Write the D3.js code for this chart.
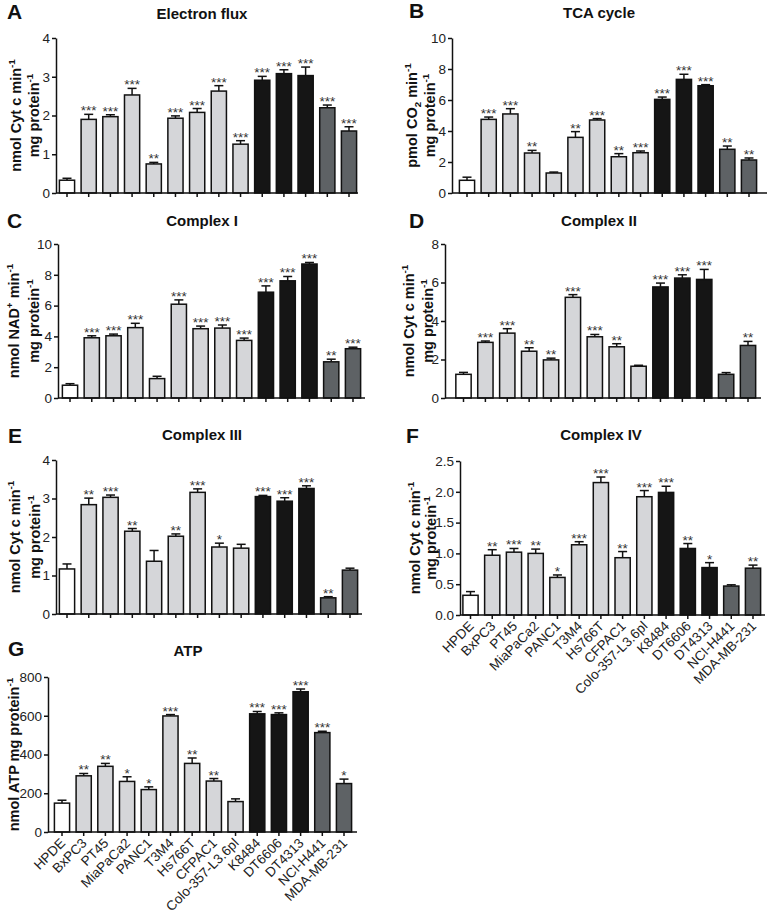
<!DOCTYPE html>
<html><head><meta charset="utf-8">
<script src="https://cdn.jsdelivr.net/npm/d3@7"></script>
<style>
body{margin:0;background:#fff}
svg{display:block}
text{font-family:"Liberation Sans",Arial,Helvetica,sans-serif}
</style>
</head><body>
<svg id="chart" width="768" height="916"></svg>
<script>
// ---------------- DATA ----------------
const categories = ["HPDE","BxPC3","PT45","MiaPaCa2","PANC1","T3M4","Hs766T","CFPAC1","Colo-357-L3.6pl","K8484","DT6606","DT4313","NCI-H441","MDA-MB-231"];
const cellGroups = ["control","pdac","pdac","pdac","pdac","pdac","pdac","pdac","pdac","murine","murine","murine","other","other"];
const groupColors = {control:"#ffffff", pdac:"#d5d6d9", murine:"#151515", other:"#5e6265"};

const electronFluxValues = [0.33,1.90,1.97,2.53,0.75,1.93,2.08,2.63,1.26,2.91,3.08,3.03,2.20,1.60];
const electronFluxErrors = [0.05,0.13,0.05,0.17,0.04,0.06,0.10,0.14,0.09,0.10,0.10,0.22,0.07,0.11];
const electronFluxStars  = ["","***","***","***","**","***","***","***","***","***","***","***","***","***"];
const electronFluxTicks  = [0,1,2,3,4];

const tcaValues = [0.82,4.75,5.10,2.58,1.29,3.59,4.71,2.34,2.60,6.04,7.33,6.92,2.82,2.13];
const tcaErrors = [0.20,0.15,0.34,0.17,0.06,0.37,0.09,0.20,0.11,0.15,0.33,0.07,0.21,0.13];
const tcaStars  = ["","***","***","**","","**","***","**","***","***","***","***","**","**"];
const tcaTicks  = [0,2,4,6,8,10];

const complexIValues = [0.83,3.91,4.04,4.57,1.26,6.09,4.50,4.54,3.74,6.87,7.61,8.70,2.35,3.20];
const complexIErrors = [0.10,0.13,0.11,0.28,0.15,0.28,0.17,0.20,0.15,0.41,0.28,0.10,0.17,0.10];
const complexIStars  = ["","***","***","***","","***","***","***","***","***","***","***","**","***"];
const complexITicks  = [0,2,4,6,8,10];

const complexIIValues = [1.23,2.89,3.37,2.43,1.98,5.23,3.18,2.66,1.65,5.77,6.23,6.16,1.23,2.73];
const complexIIErrors = [0.10,0.07,0.23,0.18,0.09,0.14,0.12,0.16,0.05,0.20,0.17,0.52,0.09,0.21];
const complexIIStars  = ["","***","***","**","**","***","***","**","","***","***","***","","**"];
const complexIITicks  = [0,2,4,6,8];

const complexIIIValues = [1.17,2.84,3.03,2.15,1.37,2.02,3.16,1.74,1.71,3.05,2.93,3.26,0.42,1.14];
const complexIIIErrors = [0.13,0.17,0.06,0.07,0.28,0.06,0.09,0.10,0.10,0.03,0.09,0.07,0.03,0.05];
const complexIIIStars  = ["","**","***","**","","**","***","*","","***","***","***","**",""];
const complexIIITicks  = [0,1,2,3,4];

const complexIVValues = [0.32,0.97,1.02,1.00,0.61,1.14,2.15,0.93,1.92,1.99,1.08,0.77,0.47,0.76];
const complexIVErrors = [0.06,0.09,0.06,0.07,0.04,0.05,0.09,0.10,0.10,0.10,0.08,0.08,0.02,0.05];
const complexIVStars  = ["","**","***","**","*","***","***","**","***","***","**","*","","**"];
const complexIVTicks  = [0,0.5,1.0,1.5,2.0,2.5];

const atpValues = [149,290,339,261,219,599,354,263,157,610,606,724,513,250];
const atpErrors = [15,12,15,24,14,7,28,13,14,12,9,14,7,23];
const atpStars  = ["","**","**","*","*","***","**","**","","***","***","***","***","*"];
const atpTicks  = [0,200,400,600,800];

// ---------------- LAYOUT ----------------
const panels = [
  {letter:"A", title:"Electron flux", values:electronFluxValues, errors:electronFluxErrors, stars:electronFluxStars, ticks:electronFluxTicks, fmt:d3.format("d"),
   ylab:[[{t:"nmol Cyt c min"},{t:"-1",sup:1}],[{t:"mg protein"},{t:"-1",sup:1}]],
   ax:56, c0:67, c1:349, end:358, yTop:38, y0:193, lx:7, ly:19, tx:202, ty:19, labX:[21,39], xLabels:false},
  {letter:"B", title:"TCA cycle", values:tcaValues, errors:tcaErrors, stars:tcaStars, ticks:tcaTicks, fmt:d3.format("d"),
   ylab:[[{t:"pmol CO"},{t:"2",sub:1},{t:" min"},{t:"-1",sup:1}],[{t:"mg protein"},{t:"-1",sup:1}]],
   ax:452, c0:467, c1:749, end:767, yTop:38, y0:193, lx:409, ly:18, tx:599, ty:18, labX:[417,435], xLabels:false},
  {letter:"C", title:"Complex I", values:complexIValues, errors:complexIErrors, stars:complexIStars, ticks:complexITicks, fmt:d3.format("d"),
   ylab:[[{t:"nmol NAD"},{t:"+",sup:1},{t:" min"},{t:"-1",sup:1}],[{t:"mg protein"},{t:"-1",sup:1}]],
   ax:58, c0:70, c1:353, end:365, yTop:244, y0:398, lx:7, ly:228, tx:202, ty:226, labX:[19,39], xLabels:false},
  {letter:"D", title:"Complex II", values:complexIIValues, errors:complexIIErrors, stars:complexIIStars, ticks:complexIITicks, fmt:d3.format("d"),
   ylab:[[{t:"nmol Cyt c min"},{t:"-1",sup:1}],[{t:"mg protein"},{t:"-1",sup:1}]],
   ax:445, c0:463.5, c1:748, end:761, yTop:244, y0:398, lx:409, ly:228, tx:599, ty:226, labX:[414,433], xLabels:false},
  {letter:"E", title:"Complex III", values:complexIIIValues, errors:complexIIIErrors, stars:complexIIIStars, ticks:complexIIITicks, fmt:d3.format("d"),
   ylab:[[{t:"nmol Cyt c min"},{t:"-1",sup:1}],[{t:"mg protein"},{t:"-1",sup:1}]],
   ax:56, c0:67, c1:350, end:362, yTop:460, y0:614, lx:8, ly:443, tx:202, ty:440, labX:[20,40], xLabels:false},
  {letter:"F", title:"Complex IV", values:complexIVValues, errors:complexIVErrors, stars:complexIVStars, ticks:complexIVTicks, fmt:d3.format(".1f"),
   ylab:[[{t:"nmol Cyt c min"},{t:"-1",sup:1}],[{t:"mg protein"},{t:"-1",sup:1}]],
   ax:460, c0:470.5, c1:753, end:765, yTop:461, y0:615, lx:406, ly:443, tx:601, ty:440, labX:[420,436], xLabels:true},
  {letter:"G", title:"ATP", values:atpValues, errors:atpErrors, stars:atpStars, ticks:atpTicks, fmt:d3.format("d"),
   ylab:[[{t:"nmol ATP mg protein"},{t:"-1",sup:1}]],
   ax:48, c0:62, c1:344, end:357, yTop:677, y0:832, lx:8, ly:656, tx:188, ty:656, labX:[19], xLabels:true}
];

const svg = d3.select("#chart");

function addRich(sel, parts, size){
  let shift = 0;
  parts.forEach(p=>{
    const ts = sel.append("tspan").text(p.t);
    let target = 0;
    if(p.sup){ ts.attr("font-size", size*0.68); target = -size*0.42; }
    else if(p.sub){ ts.attr("font-size", size*0.68); target = size*0.25; }
    if(target !== shift){ ts.attr("dy", target - shift); shift = target; }
  });
}

panels.forEach(p=>{
  const g = svg.append("g");
  const n = categories.length;
  const step = (p.c1 - p.c0)/(n-1);
  const x = d3.scaleBand().domain(categories)
    .range([p.c0 - step/2, p.c1 + step/2]).paddingInner(0.3).paddingOuter(0.15);
  const ymax = p.ticks[p.ticks.length-1];
  const y = d3.scaleLinear().domain([0, ymax]).range([p.y0, p.yTop]);
  const bw = x.bandwidth();

  // letter & title
  g.append("text").attr("x", p.lx).attr("y", p.ly).attr("font-size", 21).attr("font-weight","bold").attr("fill","#111").text(p.letter);
  g.append("text").attr("x", p.tx).attr("y", p.ty).attr("text-anchor","middle").attr("font-size", 15).attr("font-weight","bold").attr("fill","#111").text(p.title);

  // y label
  const cy = (p.y0 + p.yTop)/2;
  p.ylab.forEach((line,i)=>{
    const t = g.append("text").attr("transform",`translate(${p.labX[i]},${cy}) rotate(-90)`)
      .attr("text-anchor","middle").attr("font-size",14.5).attr("font-weight","bold").attr("fill","#111");
    addRich(t, line, 14.5);
  });

  const data = categories.map((c,i)=>({c, v:p.values[i], e:p.errors[i], s:p.stars[i], grp:cellGroups[i]}));
  // error bars
  const eb = g.append("g").attr("stroke","#111").attr("stroke-width",1.5);
  data.forEach(d=>{
    const cx = x(d.c) + bw/2;
    eb.append("line").attr("x1",cx).attr("x2",cx).attr("y1",y(d.v)).attr("y2",y(d.v+d.e));
    eb.append("line").attr("x1",cx-4.5).attr("x2",cx+4.5).attr("y1",y(d.v+d.e)).attr("y2",y(d.v+d.e));
  });
  // bars
  g.append("g").selectAll("rect").data(data).join("rect")
    .attr("x", d=>x(d.c)).attr("width", bw)
    .attr("y", d=>y(d.v)).attr("height", d=>p.y0 - y(d.v))
    .attr("fill", d=>groupColors[d.grp]).attr("stroke","#111").attr("stroke-width",1.5);

  // stars
  g.append("g").selectAll("text").data(data.filter(d=>d.s)).join("text")
    .attr("x", d=>x(d.c)+bw/2).attr("y", d=>y(d.v+d.e)+1)
    .attr("text-anchor","middle").attr("font-size",13.5).attr("fill","#333").text(d=>d.s);

  // y axis
  const yAxis = g.append("g").attr("transform",`translate(${p.ax},0)`)
    .call(d3.axisLeft(y).tickValues(p.ticks).tickFormat(p.fmt).tickSize(4).tickSizeOuter(0).tickPadding(2));
  yAxis.select(".domain").attr("stroke","#111").attr("stroke-width",1.5);
  yAxis.selectAll(".tick line").attr("stroke","#111").attr("stroke-width",1.5);
  yAxis.selectAll(".tick text").attr("font-size",13.5).attr("fill","#222").attr("font-family","Liberation Sans, Arial, sans-serif");

  // x axis
  const xAxis = g.append("g").attr("transform",`translate(0,${p.y0})`)
    .call(d3.axisBottom(x).tickSize(4).tickSizeOuter(0).tickFormat(p.xLabels ? (d=>d) : ""));
  xAxis.select(".domain").remove();
  xAxis.append("line").attr("x1", p.ax).attr("x2", p.end).attr("y1",0).attr("y2",0)
    .attr("stroke","#111").attr("stroke-width",1.5);
  xAxis.selectAll(".tick line").attr("stroke","#111").attr("stroke-width",1.5);
  if(p.xLabels){
    xAxis.selectAll(".tick text")
      .attr("font-size",13.5).attr("fill","#222").attr("font-family","Liberation Sans, Arial, sans-serif")
      .attr("text-anchor","end")
      .attr("x",0).attr("y",0).attr("dy",0)
      .attr("transform","translate(4,12) rotate(-45)");
  }
});
</script>
</body></html>
